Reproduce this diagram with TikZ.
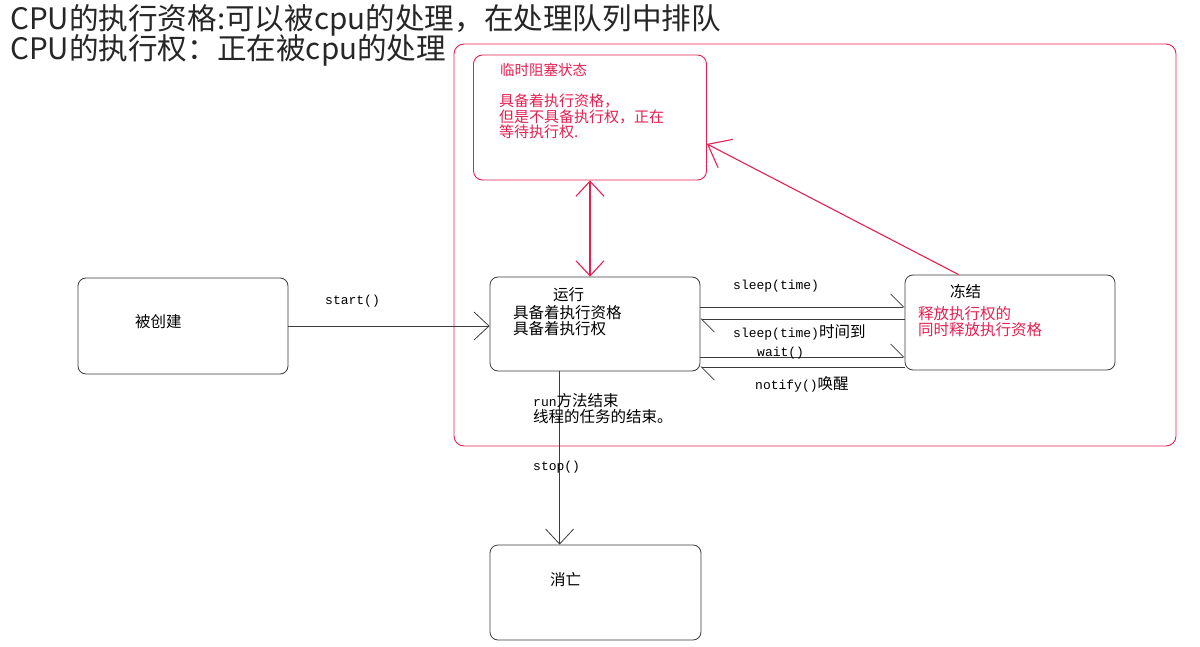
\documentclass[tikz,border=0pt]{standalone}
\usepackage{fontspec}
\setmainfont{Noto Sans CJK SC}
\newfontfamily\codefont{Liberation Mono}
\usetikzlibrary{arrows.meta,calc}
\definecolor{rd}{RGB}{228,32,82}
\definecolor{ln}{RGB}{60,60,60}
\begin{document}
\begin{tikzpicture}[x=1pt,y=-1pt,
  box/.style={draw=ln, rounded corners=8pt, line width=0.8pt, inner sep=0pt},
  rbox/.style={draw=rd, rounded corners=9pt, line width=0.9pt, inner sep=0pt},
  txt/.style={anchor=west, inner sep=0pt, font=\fontsize{15.5}{17}\selectfont},
  code/.style={anchor=west, inner sep=0pt, font=\fontsize{13}{15}\codefont},
  arr/.style={draw=ln, line width=0.8pt, -{Straight Barb[length=15pt,width=28pt,line width=0.8pt]}},
  harp/.style={draw=ln, line width=0.8pt, -{Straight Barb[harpoon,length=13pt,width=26pt,line width=0.8pt]}},
  rarr/.style={color=rd, draw=rd, line width=1.1pt}
]
\useasboundingbox (0,0) rectangle (1200,647);
% titles
\node[anchor=west, inner sep=0pt, text=black!85, font=\fontsize{29.6}{31}\selectfont] (t1) at (10,20) {CPU的执行资格:可以被cpu的处理，在处理队列中排队};
\node[anchor=west, inner sep=0pt, text=black!85, font=\fontsize{29.6}{31}\selectfont] (t2) at (10,50) {CPU的执行权：正在被cpu的处理};
% outer
\node[rbox, rounded corners=10pt, minimum width=722pt, minimum height=402pt] (outer) at (815,245) {};
% boxes
\node[rbox, minimum width=233pt, minimum height=125pt] (temp) at (590,117.5) {};
\node[box, minimum width=210pt, minimum height=96pt] (created) at (183,326) {};
\node[box, minimum width=210pt, minimum height=94pt] (running) at (595,324) {};
\node[box, minimum width=210pt, minimum height=95pt] (frozen) at (1010,322.5) {};
\node[box, minimum width=211pt, minimum height=95pt] (dead) at (595.5,592.5) {};
% texts
\node[txt, text=rd, font=\fontsize{14.5}{16}\selectfont] (ttl) at (500,70) {临时阻塞状态};
\node[txt, text=rd, align=left, anchor=north west, font=\fontsize{15}{15.5}\selectfont] (tdesc) at (499,94) {具备着执行资格，\\但是不具备执行权，正在\\等待执行权.};
\node[txt] (rt) at (553,295) {运行};
\node[txt, align=left, anchor=north west, font=\fontsize{15.5}{16}\selectfont] (rdesc) at (513,305) {具备着执行资格\\具备着执行权};
\node[txt] (ct) at (135,322) {被创建};
\node[txt] (ft) at (950,292) {冻结};
\node[txt, text=rd, align=left, anchor=north west, font=\fontsize{15.5}{16}\selectfont] (fdesc) at (918,306) {释放执行权的\\同时释放执行资格};
\node[txt] (dt) at (550,580) {消亡};
% connectors
\draw[arr] (created.east) -- (created.east -| running.west);
\draw[rarr, {Straight Barb[length=15pt,width=28pt,line width=1.1pt]}-{Straight Barb[length=15pt,width=28pt,line width=1.1pt]}] (temp.south) -- (temp.south |- running.north);
\coordinate (fz) at ($(frozen.north west)+(54,0)$);
\draw[rarr, -{Straight Barb[length=20pt,width=32pt,line width=1.1pt]}] (fz) -- ($(temp.north east)!0.71!(temp.south east)$);
\draw[harp] (running.east |- 0,307) -- (frozen.west |- 0,307);
\draw[harp] (frozen.west |- 0,319) -- (running.east |- 0,319);
\draw[harp] (running.east |- 0,357) -- (frozen.west |- 0,357);
\draw[harp] (frozen.west |- 0,367) -- (running.east |- 0,367);
\draw[arr] ($(running.south west)+(70,0)$) -- ($(dead.north west)+(70,0)$);
% labels
\node[code] (ls) at (325,301) {start()};
\node[code] (l1) at (733,286) {sleep(time)};
\node[code] (l2) at (733,332) {sleep(time)\fontsize{15.5}{17}\selectfont\rmfamily 时间到};
\node[code] (l3) at (757,353) {wait()};
\node[code] (l4) at (755,384) {notify()\fontsize{15.5}{17}\selectfont\rmfamily 唤醒};
\node[code] (l5) at (533,401) {run\fontsize{15.5}{17}\selectfont\rmfamily 方法结束};
\node[txt] (l6) at (533,417) {线程的任务的结束。};
\node[code] (l7) at (533,467) {stop()};
\end{tikzpicture}
\end{document}
